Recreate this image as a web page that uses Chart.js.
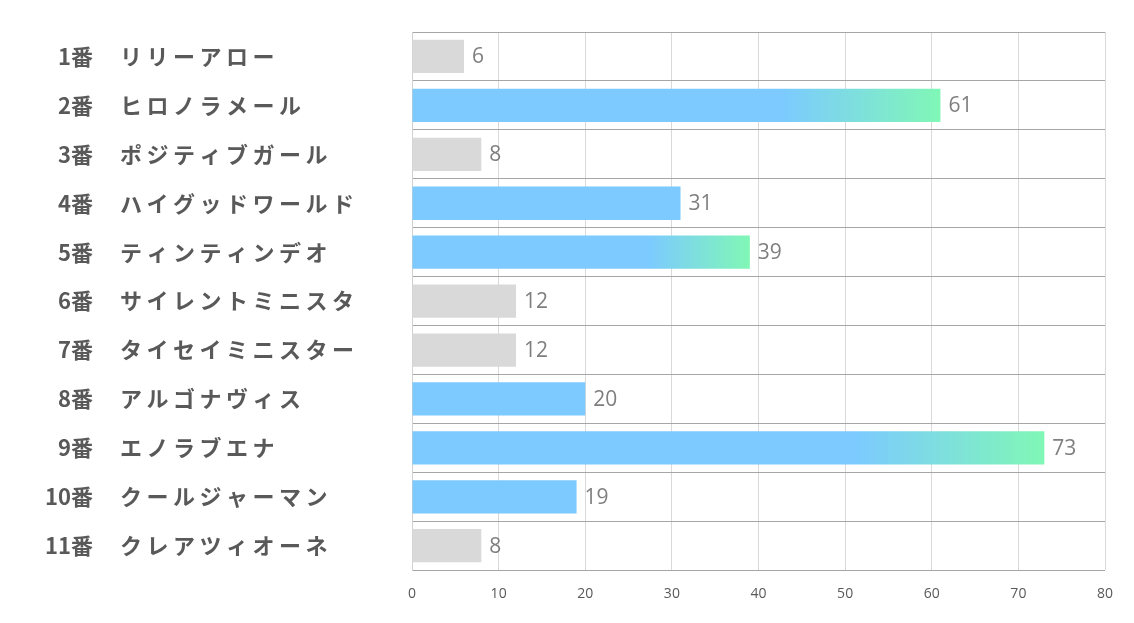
<!DOCTYPE html>
<html lang="ja">
<head>
  <meta charset="UTF-8">
  <title>人気投票</title>
  <script src="https://cdn.jsdelivr.net/npm/chart.js"></script>
  <style>
    html, body { margin: 0; padding: 0; background: #fff; }
    #wrap { width: 1134px; height: 623px; position: relative; }
  </style>
</head>
<body>
  <div id="wrap"><canvas id="voteChart"></canvas></div>

  <script>
    const numbers = ['1番', '2番', '3番', '4番', '5番', '6番', '7番', '8番', '9番', '10番', '11番'];
    const horses = ['リリーアロー', 'ヒロノラメール', 'ポジティブガール', 'ハイグッドワールド', 'ティンティンデオ',
      'サイレントミニスタ', 'タイセイミニスター', 'アルゴナヴィス', 'エノラブエナ', 'クールジャーマン', 'クレアツィオーネ'];
    const votes = [6, 61, 8, 31, 39, 12, 12, 20, 73, 19, 8];
    const marked = [false, true, false, true, true, false, false, true, true, true, false];
    const xTicks = [0, 10, 20, 30, 40, 50, 60, 70, 80];

    const GRAY = '#d9d9d9';
    const BLUE = '#7ccaff';
    const GREEN = '#80f7b6';

    function barColor(ctx) {
      const i = ctx.dataIndex;
      if (!marked[i]) return GRAY;
      const v = votes[i];
      const chart = ctx.chart;
      if (v < 35 || !chart.chartArea) return BLUE;
      const x = chart.scales.x;
      const g = chart.ctx.createLinearGradient(x.getPixelForValue(v * 0.7), 0, x.getPixelForValue(v), 0);
      g.addColorStop(0, BLUE);
      g.addColorStop(1, GREEN);
      return g;
    }

    // labels on the left + values at bar ends
    const labelPlugin = {
      id: 'labels',
      afterDatasetsDraw(chart) {
        const c = chart.ctx;
        const y = chart.scales.y;
        const meta = chart.getDatasetMeta(0);
        c.save();
        c.textBaseline = 'middle';
        c.fillStyle = '#595959';
        c.font = 'bold 22px "Noto Sans CJK JP"';
        numbers.forEach((n, i) => {
          const py = y.getPixelForValue(i);
          c.letterSpacing = '0px';
          c.textAlign = 'right';
          c.fillText(n, 93, py);
          c.letterSpacing = '4.5px';
          c.textAlign = 'left';
          c.fillText(horses[i], 120, py);
        });
        c.letterSpacing = '0px';
        c.font = '21px "Open Sans"';
        c.fillStyle = '#7f7f7f';
        c.textAlign = 'left';
        meta.data.forEach((bar, i) => {
          c.fillText(String(votes[i]), bar.x + 8, bar.y + 1);
        });
        c.restore();
      }
    };

    new Chart(document.getElementById('voteChart'), {
      type: 'bar',
      data: {
        labels: numbers,
        datasets: [{
          data: votes,
          backgroundColor: barColor,
          borderWidth: 0,
          barPercentage: 0.68,
          categoryPercentage: 1
        }]
      },
      options: {
        indexAxis: 'y',
        responsive: true,
        maintainAspectRatio: false,
        animation: false,
        layout: { padding: { top: 32, right: 29, bottom: 6, left: 0 } },
        plugins: {
          legend: { display: false },
          tooltip: { enabled: false }
        },
        scales: {
          x: {
            min: 0,
            max: 80,
            afterBuildTicks(axis) { axis.ticks = xTicks.map(v => ({ value: v })); },
            grid: { color: '#d9d9d9', lineWidth: 1, drawTicks: false },
            border: { display: false },
            ticks: { color: '#595959', padding: 15, font: { family: 'Open Sans', size: 14 } }
          },
          y: {
            afterFit(axis) { axis.width = 412; },
            grid: { color: '#a6a6a6', lineWidth: 1, drawTicks: false, offset: true },
            border: { color: '#d0d0d0' },
            ticks: { display: false }
          }
        }
      },
      plugins: [labelPlugin]
    });
  </script>
</body>
</html>
